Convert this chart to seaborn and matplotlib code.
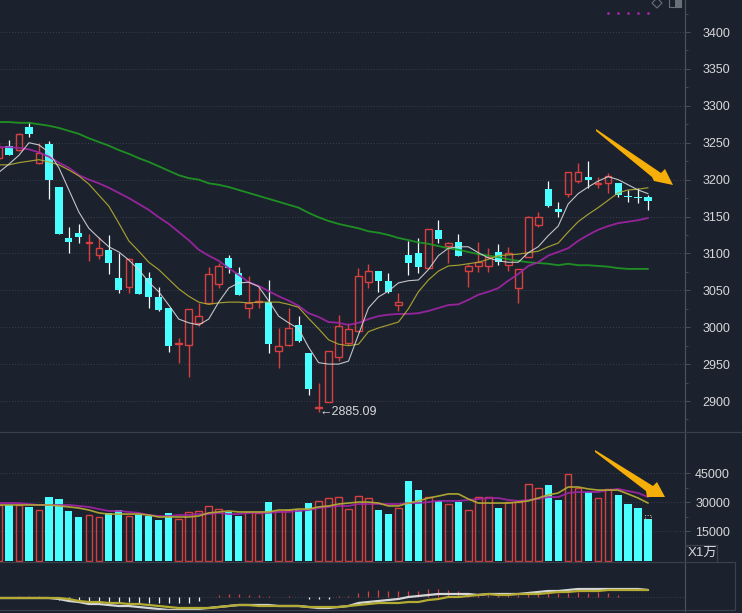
import numpy as np
import pandas as pd
import seaborn as sns
import matplotlib
matplotlib.use("Agg")
import matplotlib.pyplot as plt
from matplotlib.patches import Polygon, Rectangle
from matplotlib.transforms import Affine2D

# daily candles
open_px = [3229,3246,3240,3271,3223,3248,3190,3121,3128,3114,3098,3105,3067,3054,3087,3067,3041,3026,2977,2976,3006,3033,3059,3094,3073,3026,3034,3034,2968,2976,3003,2965,2891,2899,2960,2979,2995,3061,3076,3063,3030,3098,3101,3080,3132,3110,3116,3076,3083,3083,3102,3084,3053,3095,3139,3187,3160,3181,3198,3204,3194,3195,3195,3178,3176,3176]
close_px = [3244,3233,3262,3262,3236,3200,3126,3115,3122,3115,3107,3087,3050,3092,3045,3041,3023,2975,2979,3025,3015,3072,3083,3080,3044,3033,3036,2977,2975,2999,2981,2916,2892,2968,3002,2998,3069,3076,3063,3048,3034,3087,3082,3133,3120,3114,3097,3083,3088,3095,3088,3101,3079,3149,3149,3164,3156,3210,3210,3200,3195,3205,3179,3176,3175,3171]
high_px = [3250,3254,3263,3278,3250,3252,3190,3136,3140,3126,3122,3125,3101,3094,3087,3075,3055,3026,2985,3025,3033,3082,3087,3098,3082,3069,3055,3064,2999,3026,3015,2965,2924,2968,3017,3006,3080,3086,3076,3073,3046,3117,3121,3133,3145,3116,3126,3086,3116,3107,3113,3109,3079,3151,3156,3198,3170,3210,3223,3225,3204,3209,3195,3186,3189,3179]
low_px = [3227,3233,3239,3258,3221,3174,3126,3101,3114,3090,3092,3072,3046,3046,3045,3026,3022,2966,2952,2933,3002,3033,3053,3073,3044,3012,3026,2965,2945,2975,2980,2908,2885.09,2899,2954,2976,2994,3053,3048,3046,3022,3071,3073,3080,3114,3087,3097,3055,3075,3075,3084,3076,3033,3095,3136,3163,3149,3176,3195,3189,3189,3182,3176,3170,3168,3159]

ma5 = [3210,3221,3233,3250,3247,3237,3216,3186,3156,3134,3121,3109,3102,3091,3078,3061,3048,3030,3011,3006,3003,3011,3034,3053,3060,3061,3055,3036,3015,3006,2998,2973,2952,2950,2950,2954,2990,3026,3041,3049,3060,3063,3064,3078,3097,3107,3109,3109,3101,3094,3090,3088,3088,3101,3109,3124,3137,3167,3181,3190,3198,3204,3200,3193,3186,3181]
ma10 = [3220,3220,3223,3225,3227,3224,3220,3213,3205,3194,3179,3164,3141,3117,3103,3088,3078,3065,3052,3042,3034,3031,3033,3034,3034,3033,3034,3034,3034,3031,3027,3012,2998,2983,2977,2975,2977,2994,2999,3003,3007,3025,3048,3064,3076,3083,3084,3086,3088,3092,3097,3098,3099,3101,3103,3109,3114,3129,3143,3153,3162,3172,3182,3186,3187,3189]
ma20 = [3244,3244,3243,3241,3237,3231,3223,3216,3206,3200,3195,3189,3182,3175,3167,3159,3149,3140,3129,3118,3105,3097,3090,3080,3071,3061,3056,3049,3042,3036,3029,3019,3014,3007,3006,3003,3006,3011,3015,3017,3018,3018,3019,3022,3026,3030,3031,3037,3044,3048,3053,3063,3072,3083,3088,3097,3102,3107,3117,3125,3132,3137,3141,3143,3145,3148]
ma60 = [3278,3278,3277,3277,3275,3273,3270,3266,3262,3256,3251,3246,3240,3235,3229,3224,3218,3212,3206,3202,3200,3195,3193,3190,3186,3182,3178,3174,3170,3166,3162,3155,3149,3144,3140,3137,3134,3130,3128,3125,3121,3118,3115,3113,3110,3107,3105,3102,3099,3097,3095,3092,3090,3088,3087,3086,3084,3086,3084,3084,3083,3082,3080,3079,3079,3079]

# volume pane
volume = [28700,28700,28700,27700,26100,32800,31800,25600,22500,23500,22500,24600,26100,23000,23500,23000,20900,24600,21500,25100,25600,28200,26600,25100,23000,25100,24600,30200,25600,26100,26100,29700,30800,32300,32800,26600,33300,32300,26100,24000,27100,41100,36400,32800,30800,29200,30200,26100,32800,32800,27100,30200,30200,39500,37500,39000,31300,44700,37500,35400,32300,37000,33900,29200,27100,21500]
vol_ma5 = [28700,28700,28700,28700,28700,28700,28200,27700,27100,26100,24600,24000,24000,24000,24000,23500,22500,22500,22500,22500,23000,24600,25100,25600,25100,25100,25100,25100,26100,26100,26600,26600,27700,28200,29200,29700,30200,30200,29700,28200,28200,29700,30800,32300,33300,34400,34400,31800,29700,29700,29700,29700,30200,30800,32300,33900,34900,38000,38000,37000,36400,36400,36400,34400,32300,29700]
vol_ma10 = [29700,29700,29700,29200,28700,28700,28700,28700,28200,27700,26600,25600,25600,25100,24600,23500,23000,23000,23500,23500,24000,24000,24600,24000,24000,24600,24600,24600,25100,25100,25600,26100,27100,27700,28200,28200,29200,29200,29200,29200,29200,29700,29700,30200,30800,30800,30800,31300,31800,32300,32300,31300,30800,31300,31800,32800,32800,34900,35400,35400,35400,36400,37000,35900,34900,32800]
vol_ticks = [15000, 30000, 45000]

# macd pane
dif = [-2,-2,-2,-2,-2,-2,-4,-8,-10,-14,-14,-16,-18,-18,-20,-22,-24,-26,-26,-26,-24,-22,-20,-18,-16,-16,-16,-16,-18,-18,-18,-20,-22,-22,-20,-18,-12,-10,-8,-6,-4,0,2,4,6,6,6,6,4,6,6,6,6,8,10,12,12,14,16,16,16,16,16,16,16,14]
dea = [-2,-2,-2,-2,-2,-2,-2,-4,-8,-10,-10,-12,-12,-14,-14,-16,-18,-20,-22,-22,-22,-22,-20,-18,-16,-16,-18,-18,-18,-18,-18,-20,-20,-20,-20,-18,-16,-14,-12,-12,-12,-10,-10,-6,-4,0,0,2,4,6,4,4,6,6,6,8,10,10,12,12,12,14,14,14,14,14]
macd_bar = [0,0,3,3,3,0,-6,-8,-10,-10,-10,-10,-12,-10,-12,-12,-12,-12,-12,-12,-8,0,4,6,6,4,4,2,0,2,0,-4,-4,-4,2,3,8,12,14,12,12,12,12,16,16,14,12,8,8,4,4,4,4,8,8,8,8,8,10,8,10,8,4,0,0,0]
macd_ticks = [0]

price_ticks = list(range(2900, 3401, 50))
dot_idx = [61, 62, 63, 64, 65]
dot_px = [3426, 3426, 3426, 3426, 3426]

BG = "#1c222d"
LINE = "#4b515b"
FRAME = "#3b414b"
RED = "#d8403f"
CYAN = "#49ffff"
WHITE = "#d4d6d8"
OLIVE = "#b4ab32"
PURPLE = "#a324a8"
GREEN = "#1f9c22"
TXT = "#d6d8da"
ARROW = "#f6ae09"

sns.set_theme(style="dark", rc={"figure.facecolor": BG, "axes.facecolor": BG})
plt.rcParams["font.family"] = ["Liberation Sans", "Noto Sans CJK SC", "DejaVu Sans"]

W, H = 742, 613
fig = plt.figure(figsize=(W / 100, H / 100), dpi=100)
px = Affine2D().scale(1 / W, -1 / H).translate(0, 1) + fig.transFigure


def pane(top, bottom):
    return fig.add_axes([0, 1 - bottom / H, 685 / W, (bottom - top) / H])


ax = pane(0, 432)
ax_vol = pane(432, 562)
ax_macd = pane(562, 611)

idx = np.arange(len(open_px))
df = pd.DataFrame({"i": idx, "o": open_px, "c": close_px, "h": high_px, "l": low_px, "vol": volume})
up = df[df.c >= df.o]
down = df[df.c < df.o]

# candles
ax.bar(up.i, up.c - up.o, bottom=up.o, width=0.66, facecolor="none", edgecolor=RED, linewidth=1.0, zorder=2)
ax.vlines(up.i, up.c, up.h, color=RED, lw=1.0, zorder=2)
ax.vlines(up.i, up.l, up.o, color=RED, lw=1.0, zorder=2)
ax.vlines(down.i, down.l, down.h, color="#eefcfc", lw=0.9, zorder=2)
ax.bar(down.i, down.o - down.c, bottom=down.c, width=0.72, color=CYAN, linewidth=0, zorder=3)

for vals, col, lw in [(ma60, GREEN, 1.3), (ma20, PURPLE, 1.3), (ma10, OLIVE, 0.85), (ma5, WHITE, 0.8)]:
    sns.lineplot(x=idx, y=vals, color=col, lw=lw, ax=ax, alpha=0.9, zorder=4)

sns.scatterplot(x=dot_idx, y=dot_px, color=PURPLE, s=4, marker="o", linewidth=0, ax=ax)

ax.text(32.05, 2885.09, "\u2190" + "2885.09", color=TXT, fontsize=9, ha="left", va="center", zorder=6)
ax.set_yticks(price_ticks)
ax.set_yticks(list(range(2875, 3426, 50)), minor=True)
ax.set_ylim(2858.0, 3443.4)

# volume bars
sns.barplot(data=up, x="i", y="vol", native_scale=True, width=0.66, fill=False, color=RED, linewidth=1.0, ax=ax_vol)
for p in ax_vol.patches:
    p.set_snap(True)
    p.set_alpha(1)
sns.barplot(data=down, x="i", y="vol", native_scale=True, width=0.72, color=CYAN, saturation=1, linewidth=0, ax=ax_vol)
ax_vol.bar(idx[-1], 2000, bottom=volume[-1], width=0.6, fill=False, edgecolor="#cfcfb0", linewidth=0.7, linestyle=":")
sns.lineplot(x=idx, y=vol_ma10, color=PURPLE, lw=1.3, ax=ax_vol, alpha=0.9, zorder=4)
sns.lineplot(x=idx, y=vol_ma5, color=OLIVE, lw=1.2, ax=ax_vol, alpha=0.95, zorder=4)
ax_vol.set_yticks(vol_ticks)
ax_vol.set_yticks([7500, 22500, 37500], minor=True)
ax_vol.set_ylim(-775, 66435)

# macd
macd_bar = np.array(macd_bar)
pos = macd_bar > 0
neg = macd_bar < 0
ax_macd.vlines(idx[pos], 0, macd_bar[pos], color=RED, lw=0.9)
ax_macd.vlines(idx[neg], 0, macd_bar[neg], color="#e8f4f4", lw=0.9)
sns.lineplot(x=idx, y=dif, color=WHITE, lw=1.6, ax=ax_macd, zorder=4)
sns.lineplot(x=idx, y=dea, color=OLIVE, lw=1.6, ax=ax_macd, zorder=5)
ax_macd.set_yticks(macd_ticks)
ax_macd.set_ylim(-28, 70)

for a in (ax, ax_vol, ax_macd):
    a.set_xlim(0.1, 68.7)
    a.set_xlabel("")
    a.set_ylabel("")
    a.set_xticks([])
    a.set_facecolor(BG)
    a.grid(False)
    a.grid(True, axis="y", which="major", color="#3a414b", linestyle=(0, (1, 2)), lw=0.7, zorder=0)
    a.yaxis.tick_right()
    a.tick_params(axis="y", which="major", right=True, length=3.6, width=0.7, color=LINE,
                  pad=28.8, labelsize=9, labelcolor=TXT)
    a.tick_params(axis="y", which="minor", right=True, length=1.8, width=0.6, color=LINE)
    for lab in a.get_yticklabels():
        lab.set_ha("right")
    for s in a.spines.values():
        s.set_visible(False)
    a.spines["right"].set_visible(True)
    a.spines["right"].set_color(LINE)
    a.spines["right"].set_linewidth(0.9)

ax_macd.set_yticklabels([])
ax_macd.tick_params(axis="y", length=0)

# pane frame, unit box and toolbar icons
def seg(xs, ys, **kw):
    fig.add_artist(plt.Line2D(xs, ys, transform=px, color=FRAME, lw=0.9, **kw))


seg([0, W], [432, 432])
seg([0, 735], [562, 562])
seg([0, 735], [610, 610])
seg([735, 735], [562, 610])
seg([685, 717, 717], [545, 545, 562])
fig.text(688 / W, 1 - 553 / H, "X1万", color=TXT, fontsize=9.5, va="center", ha="left")

fig.add_artist(Polygon([(657, -2), (662, 3), (657, 8), (652, 3)], closed=True, fill=False,
                       edgecolor="#6a7079", lw=0.8, transform=px))
fig.add_artist(Rectangle((669, -2), 12, 9, fill=False, edgecolor="#6a7079", lw=0.8, transform=px))
fig.add_artist(Rectangle((675, -2), 6, 9, color="#6a7079", lw=0, transform=px))

# hand drawn arrows on top of the chart
fig.add_artist(Polygon([(596, 129), (661, 173), (665, 169), (673, 185), (654, 181), (652, 177), (596, 131)],
                       closed=True, color=ARROW, lw=0, transform=px, zorder=10))
fig.add_artist(Polygon([(595, 450), (653, 486), (657, 482), (665, 497), (647, 497), (646, 491), (595, 452)],
                       closed=True, color=ARROW, lw=0, transform=px, zorder=10))

fig.savefig("out.png", dpi=100, facecolor=BG)
